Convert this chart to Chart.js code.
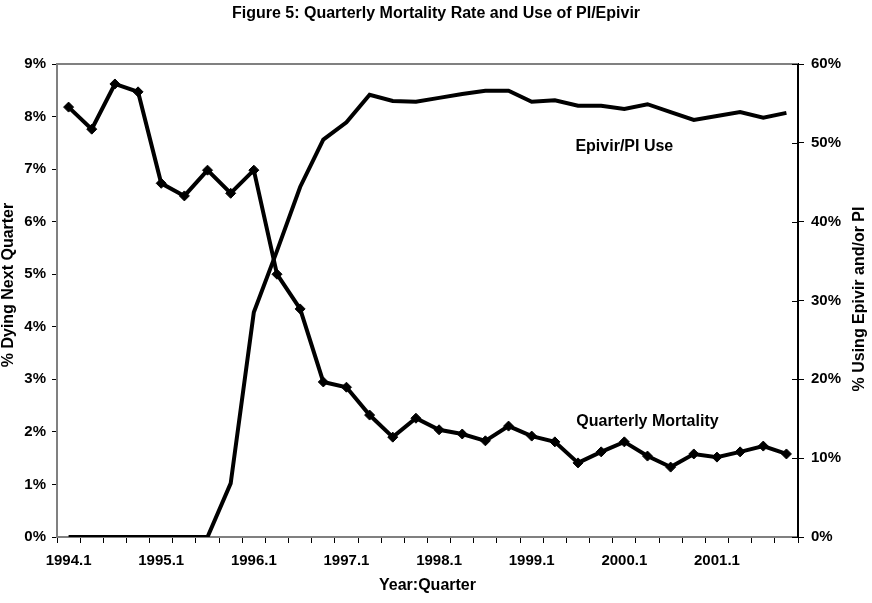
<!DOCTYPE html>
<html>
<head>
<meta charset="utf-8">
<script src="https://cdn.jsdelivr.net/npm/chart.js@4/dist/chart.umd.min.js"></script>
<style>
  body { margin: 0; background: #fff; }
  #wrap { width: 872px; height: 603px; }
</style>
</head>
<body>
<div id="wrap"><canvas id="chart_mortality"></canvas></div>
<script>
// quarters 1994.1 .. 2001.4
const quarters = [
  '1994.1','1994.2','1994.3','1994.4','1995.1','1995.2','1995.3','1995.4',
  '1996.1','1996.2','1996.3','1996.4','1997.1','1997.2','1997.3','1997.4',
  '1998.1','1998.2','1998.3','1998.4','1999.1','1999.2','1999.3','1999.4',
  '2000.1','2000.2','2000.3','2000.4','2001.1','2001.2','2001.3','2001.4'
];

// % dying next quarter (left axis)
const mortality = [
  8.18, 7.76, 8.62, 8.47, 6.73, 6.49, 6.98, 6.54,
  6.98, 5.00, 4.34, 2.95, 2.85, 2.32, 1.90, 2.26,
  2.04, 1.96, 1.83, 2.11, 1.92, 1.81, 1.41, 1.62,
  1.81, 1.54, 1.33, 1.58, 1.52, 1.62, 1.73, 1.58
];

// % using Epivir and/or PI (right axis)
const epivirUse = [
  0, 0, 0, 0, 0, 0, 0, 6.8,
  28.5, 36.3, 44.4, 50.4, 52.6, 56.1, 55.3, 55.2,
  55.7, 56.2, 56.6, 56.6, 55.2, 55.4, 54.7, 54.7,
  54.3, 54.9, 53.9, 52.9, 53.4, 53.9, 53.2, 53.8
];

const leftTicks = [0, 1, 2, 3, 4, 5, 6, 7, 8, 9];
const rightTicks = [0, 10, 20, 30, 40, 50, 60];

const font = "Arial, 'Liberation Sans', sans-serif";
const tickFont = { family: font, size: 15, weight: 'bold' };
const titleFont = { family: font, size: 16, weight: 'bold' };

// top frame, crossing ticks on the right axis, rotated axis titles, line labels
const extras = {
  id: 'extras',
  afterDraw(chart) {
    let { ctx, chartArea: a, scales } = chart;
    ctx.save();
    ctx.strokeStyle = '#808080';
    ctx.lineWidth = 2;
    ctx.beginPath();
    ctx.moveTo(a.left, a.top);
    ctx.lineTo(a.right, a.top);
    ctx.stroke();

    ctx.strokeStyle = '#000';
    ctx.lineWidth = 1;
    rightTicks.forEach(v => {
      let y = Math.round(scales.y2.getPixelForValue(v)) + 0.5;
      ctx.beginPath();
      ctx.moveTo(a.right - 6, y);
      ctx.lineTo(a.right, y);
      ctx.stroke();
    });

    ctx.fillStyle = '#000';
    ctx.font = "bold 16px " + font;
    ctx.textAlign = 'center';
    ctx.textBaseline = 'middle';

    ctx.save();
    ctx.translate(9, 285);
    ctx.rotate(-Math.PI / 2);
    ctx.fillText('% Dying Next Quarter', 0, 0);
    ctx.restore();

    ctx.save();
    ctx.translate(860, 299);
    ctx.rotate(-Math.PI / 2);
    ctx.fillText('% Using Epivir and/or PI', 0, 0);
    ctx.restore();

    ctx.fillText('Epivir/PI Use', scales.x.getPixelForValue(24), scales.y2.getPixelForValue(49.5));
    ctx.fillText('Quarterly Mortality', scales.x.getPixelForValue(25), scales.y.getPixelForValue(2.19));
    ctx.restore();
  }
};

let data = {
  labels: quarters,
  datasets: [
    {
      label: 'Quarterly Mortality',
      data: mortality,
      yAxisID: 'y',
      borderColor: '#000',
      backgroundColor: '#000',
      borderWidth: 4,
      pointStyle: 'rectRot',
      pointRadius: 5,
      pointBorderWidth: 1,
      tension: 0
    },
    {
      label: 'Epivir/PI Use',
      data: epivirUse,
      yAxisID: 'y2',
      borderColor: '#000',
      backgroundColor: '#000',
      borderWidth: 4,
      pointRadius: 0,
      tension: 0
    }
  ]
};

let options = {
  responsive: true,
  maintainAspectRatio: false,
  animation: false,
  layout: { padding: 0 },
  plugins: {
    legend: { display: false },
    tooltip: { enabled: false },
    title: {
      display: true,
      text: 'Figure 5: Quarterly Mortality Rate and Use of PI/Epivir',
      color: '#000',
      font: titleFont,
      padding: { top: 4, bottom: 40.8 }
    }
  },
  scales: {
    x: {
      type: 'category',
      offset: true,
      afterFit: s => { s.height = 66; },
      border: { display: true, color: '#808080', width: 2 },
      grid: { display: true, offset: true, drawOnChartArea: false, drawTicks: true, tickLength: 6, color: '#000' },
      ticks: {
        autoSkip: false,
        maxRotation: 0,
        padding: 9,
        color: '#000',
        font: tickFont,
        callback: (v, i) => (i % 4 === 0 ? quarters[i] : '')
      },
      title: { display: true, text: 'Year:Quarter', color: '#000', font: titleFont, padding: { top: 4, bottom: 8 } }
    },
    y: {
      position: 'left',
      min: 0,
      max: 9,
      afterFit: s => { s.width = 57; },
      afterBuildTicks: s => { s.ticks = leftTicks.map(v => ({ value: v })); },
      border: { display: true, color: '#808080', width: 2 },
      grid: { drawOnChartArea: false, drawTicks: true, tickLength: 5, color: '#000' },
      ticks: { color: '#000', font: tickFont, padding: 6, callback: v => v + '%' }
    },
    y2: {
      position: 'right',
      min: 0,
      max: 60,
      afterFit: s => { s.width = 74; },
      afterBuildTicks: s => { s.ticks = rightTicks.map(v => ({ value: v })); },
      border: { display: true, color: '#000', width: 2 },
      grid: { drawOnChartArea: false, drawTicks: true, tickLength: 6, color: '#000' },
      ticks: { color: '#000', font: tickFont, padding: 7, callback: v => v + '%' }
    }
  }
};

new Chart('chart_mortality', { type: 'line', plugins: [extras], data, options });
</script>
</body>
</html>
